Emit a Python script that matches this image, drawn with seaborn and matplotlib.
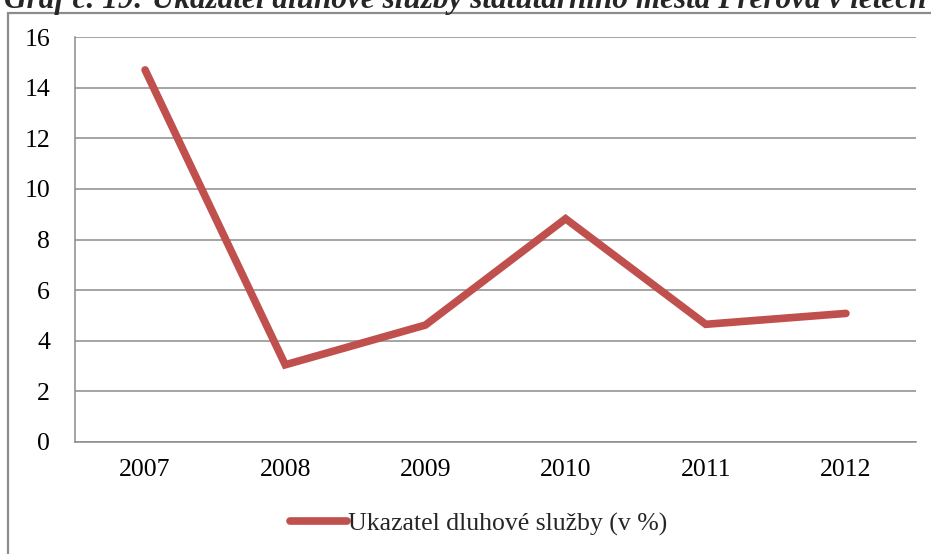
import matplotlib
matplotlib.use("Agg")
import matplotlib.pyplot as plt
import seaborn as sns
import pandas as pd
import numpy as np
from matplotlib.patches import Rectangle

years = ["2007", "2008", "2009", "2010", "2011", "2012"]
values = [14.7, 3.05, 4.62, 8.82, 4.65, 5.08]
series_name = "Ukazatel dluhové služby (v %)"
title = "Graf č. 19: Ukazatel dluhové služby statutárního města Přerova v letech 2007 – 2012"

sns.set_style("white")
plt.rcParams['font.family'] = ['Liberation Serif', 'DejaVu Serif']

df = pd.DataFrame({"rok": years, "hodnota": values})

fig = plt.figure(figsize=(9.31, 5.54), dpi=100)
ax = fig.add_axes([75/931, 1 - 442/554, (916 - 75)/931, (442 - 37)/554])

sns.lineplot(data=df, x="rok", y="hodnota", ax=ax, color="#C0504D", linewidth=5.5,
             solid_capstyle="round", solid_joinstyle="miter", label=series_name, sort=False)

ax.set_xlim(-0.5, len(years) - 0.5)
ax.set_ylim(0, 16)
ax.set_yticks(np.arange(0, 17, 2))
ax.set_xlabel("")
ax.set_ylabel("")
ax.yaxis.grid(True, color="#8c8c8c", linewidth=1.1)
ax.set_axisbelow(True)
for s in ["top", "right"]:
    ax.spines[s].set_visible(False)
for s in ["left", "bottom"]:
    ax.spines[s].set_color("#8c8c8c")
    ax.spines[s].set_linewidth(1.1)

ax.set_xticks(np.arange(-0.5, len(years), 1.0), minor=True)
ax.tick_params(axis="x", which="major", length=0, pad=12, labelsize=18.5, colors="black")
ax.tick_params(axis="x", which="minor", length=7, width=1.1, color="#8c8c8c", direction="out")
ax.tick_params(axis="y", length=8, width=1.1, color="#8c8c8c", direction="out", pad=10, labelsize=18.5)
for t in ax.get_xticklabels() + ax.get_yticklabels():
    t.set_color("black")

leg = ax.legend(loc="center", bbox_to_anchor=(479/931, 1 - 524/554), bbox_transform=fig.transFigure,
                frameon=False, fontsize=18.5, handlelength=2.2, handletextpad=0.05)

fig.patches.append(Rectangle((8/931, -0.1), 2.0, 1 - 13/554 + 0.1, transform=fig.transFigure,
                             fill=False, edgecolor="#8c8c8c", linewidth=1.6, zorder=0))

fig.text(4/931, 1 - 8/554, title, fontsize=22.5, fontweight="bold", fontstyle="italic",
         va="baseline", ha="left")

fig.savefig("out.png", dpi=100)
